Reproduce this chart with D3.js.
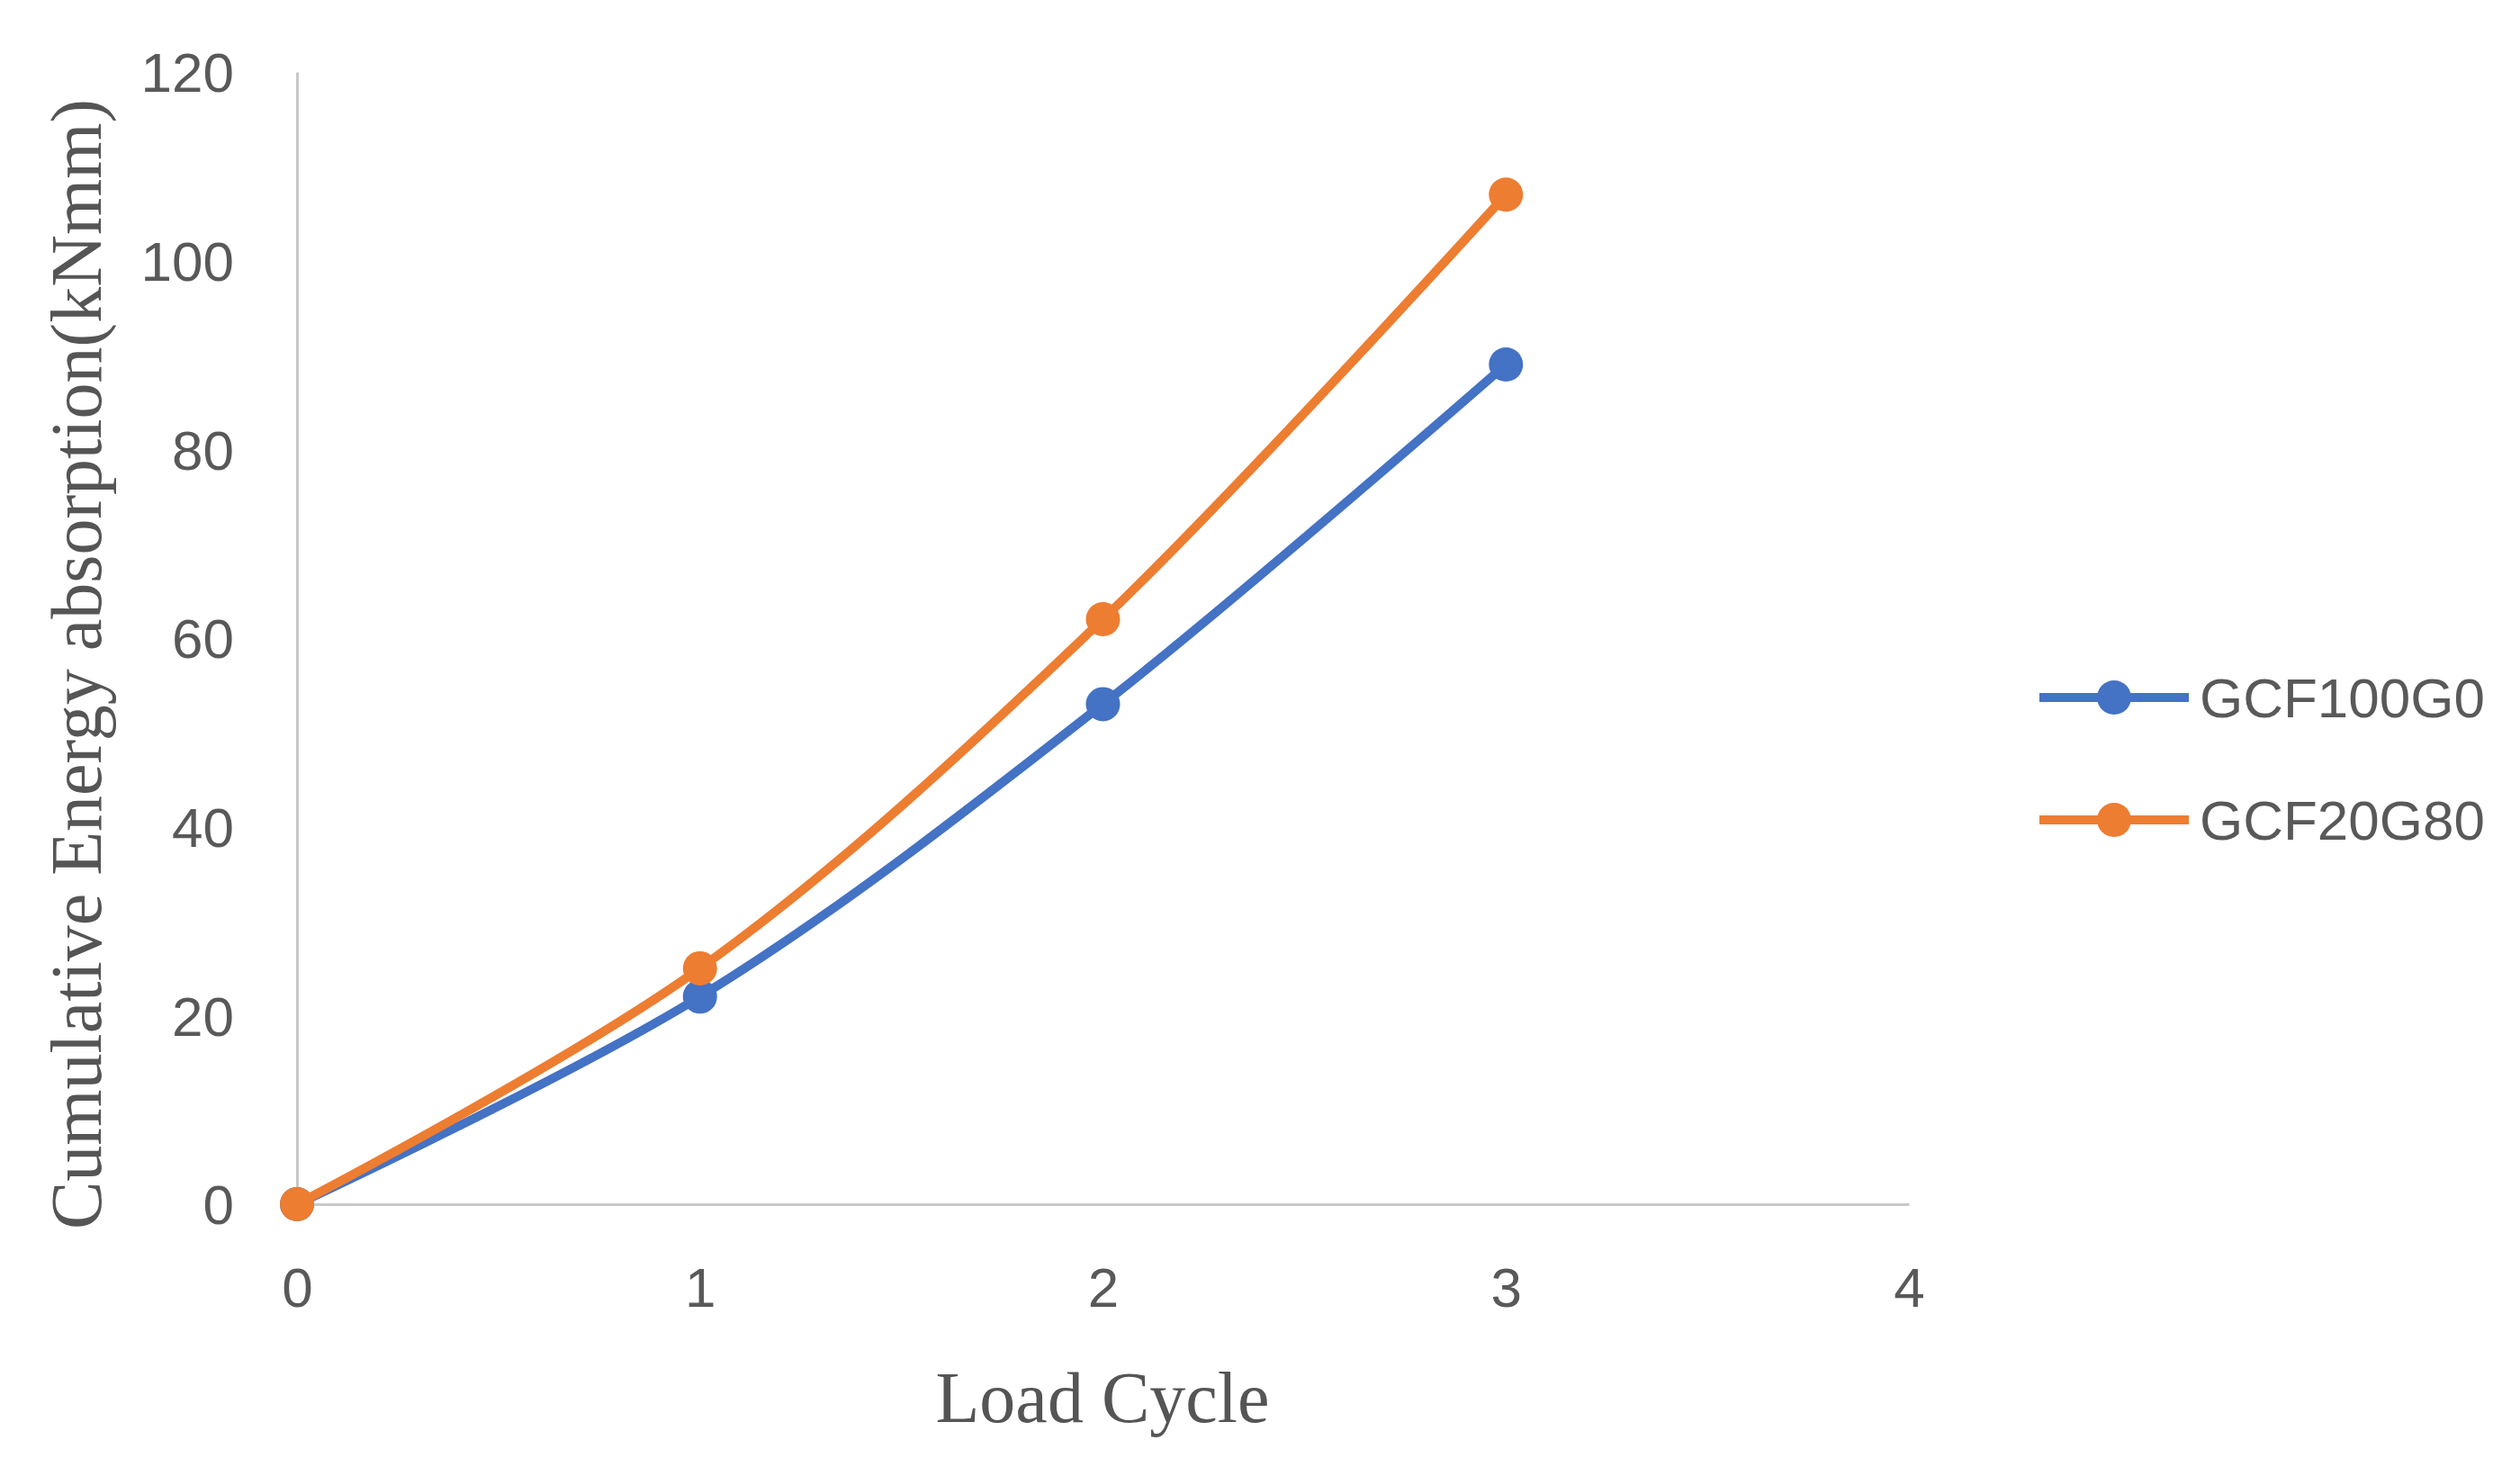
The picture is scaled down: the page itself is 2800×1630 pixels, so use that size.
<!DOCTYPE html>
<html><head><meta charset="utf-8">
<script src="https://cdn.jsdelivr.net/npm/d3@7"></script>
<style>html,body{margin:0;padding:0;background:#fff;}</style>
</head><body>
<svg id="chart" width="2800" height="1630"></svg>
<script>
const loadCycles = [0, 1, 2, 3];
const seriesNames = ["GCF100G0", "GCF20G80"];
const gcf100g0 = [0, 22, 53, 89];
const gcf20g80 = [0, 25, 62, 107];
const xTicks = [0, 1, 2, 3, 4];
const yTicks = [0, 20, 40, 60, 80, 100, 120];
const colors = ["#4472C4", "#ED7D31"];

(function () {
const svg = d3.select("#chart");
const mLeft = 330, mRight = 2121, mTop = 80, mBottom = 1338;
const x = d3.scaleLinear().domain([0, 4]).range([mLeft, mRight]);
const y = d3.scaleLinear().domain([0, 120]).range([mBottom, mTop]);

// axes
const xAxis = d3.axisBottom(x).tickValues(xTicks).tickSize(0).tickPadding(70).tickFormat(d3.format("d"));
const yAxis = d3.axisLeft(y).tickValues(yTicks).tickSize(0).tickPadding(70).tickFormat(d3.format("d"));
const gx = svg.append("g").attr("transform", `translate(0,${mBottom})`).call(xAxis);
const gy = svg.append("g").attr("transform", `translate(${mLeft},0)`).call(yAxis);
[gx, gy].forEach(g => {
  g.select(".domain").attr("stroke", "#c8c8c8").attr("stroke-width", 3);
  g.selectAll("text").attr("font-family", "Liberation Sans, Arial, sans-serif")
    .attr("font-size", 62).attr("fill", "#595959");
});
gy.selectAll("text").attr("dy", "0.35em");
gx.selectAll("text").attr("dy", "0.71em");

// axis titles
svg.append("text").attr("x", 1225).attr("y", 1580).attr("text-anchor", "middle")
  .attr("font-family", "Liberation Serif, Times New Roman, serif").attr("font-size", 80)
  .attr("fill", "#555555").text("Load Cycle");
svg.append("text").attr("transform", "translate(112,738) rotate(-90)").attr("text-anchor", "middle")
  .attr("font-family", "Liberation Serif, Times New Roman, serif").attr("font-size", 80)
  .attr("fill", "#555555").text("Cumulative Energy absorption(kNmm)");

// series
const allSeries = [gcf100g0, gcf20g80];
const line = d3.line().x((d, i) => x(loadCycles[i])).y(d => y(d)).curve(d3.curveCatmullRom.alpha(0.5));
allSeries.forEach((vals, si) => {
  svg.append("path").datum(vals).attr("d", line).attr("fill", "none")
    .attr("stroke", colors[si]).attr("stroke-width", 10).attr("stroke-linejoin", "round");
  svg.selectAll(null).data(vals).enter().append("circle")
    .attr("cx", (d, i) => x(loadCycles[i])).attr("cy", d => y(d)).attr("r", 19)
    .attr("fill", colors[si]);
});

// legend
const legend = svg.append("g");
seriesNames.forEach((name, i) => {
  const ly = 775 + i * 136;
  legend.append("line").attr("x1", 2266).attr("x2", 2432).attr("y1", ly).attr("y2", ly)
    .attr("stroke", colors[i]).attr("stroke-width", 10);
  legend.append("circle").attr("cx", 2349).attr("cy", ly).attr("r", 19).attr("fill", colors[i]);
  legend.append("text").attr("x", 2444).attr("y", ly).attr("dy", "0.36em")
    .attr("font-family", "Liberation Sans, Arial, sans-serif").attr("font-size", 62)
    .attr("fill", "#595959").text(name);
});
})();
</script>
</body></html>
